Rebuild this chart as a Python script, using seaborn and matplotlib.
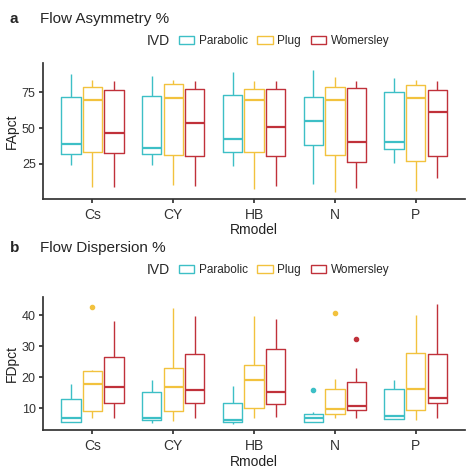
import numpy as np
import pandas as pd
import seaborn as sns
import matplotlib
matplotlib.use('Agg')
import matplotlib.pyplot as plt
from matplotlib.patches import Patch

models = ["Cs", "CY", "HB", "N", "P"]
ivds = ["Parabolic", "Plug", "Womersley"]
colors = ["#3DBFC6", "#F2C23E", "#C0313A"]

# five-number summaries [min, q1, median, q3, max] per model, per IVD
fa_parabolic = [[24, 32, 39, 71.7, 88], [24, 32, 36, 72.7, 86.7], [23.6, 33, 42, 73.4, 89],
                [11, 38, 55, 71.7, 91], [25.5, 35, 40, 75, 85]]
fa_plug = [[8.6, 33, 70, 79, 84], [10, 31, 71, 81, 84], [7, 33, 70, 77.3, 83],
           [5, 31, 69.4, 78.7, 85.5], [5.6, 27, 71.3, 80.4, 84]]
fa_womersley = [[8.6, 32.5, 46.5, 77, 83], [9.6, 30.6, 53.5, 77.5, 83], [9, 30.6, 51, 77.3, 82.7],
                [8, 26, 40.4, 78, 82.7], [15, 30, 61, 77, 82.7]]

fd_parabolic = [[5.5, 5.7, 6.8, 13, 18], [5.3, 6.2, 7, 15.4, 19], [4.9, 5.7, 6.1, 11.7, 17.3],
                [5.5, 5.7, 7, 8.2, 8.7], [6.5, 6.6, 7.6, 16.4, 19]]
fd_plug = [[7, 9.2, 18, 22.1, 22.3], [6, 9.2, 17, 22.9, 42.4], [7, 10, 19, 24, 39.7],
           [7, 8.1, 9.8, 16.4, 19.6], [6.3, 9.5, 16.4, 28, 40]]
fd_womersley = [[7, 11.7, 16.8, 26.6, 38.3], [6.8, 11.6, 16, 27.4, 39.7], [7.3, 11.3, 15.4, 29, 38.7],
                [7, 9.6, 10.8, 18.6, 22.9], [7, 11.6, 13.2, 27.6, 43.7]]
# outliers: (model, ivd, value)
fd_outliers = [("Cs", "Plug", 42.6), ("N", "Parabolic", 15.8), ("N", "Plug", 40.7), ("N", "Womersley", 32.5)]


def build(summaries, outliers=()):
    rows = []
    for ivd, summ in zip(ivds, summaries):
        for m, (lo, q1, med, q3, hi) in zip(models, summ):
            vals = [lo, (lo + q1) / 2, q1, (q1 + med) / 2, med, (med + q3) / 2, q3, (q3 + hi) / 2, hi]
            for om, oi, ov in outliers:
                if om == m and oi == ivd:
                    vals = [lo, (lo + q1) / 2, q1, (q1 + med) / 2, med, (med + q3) / 2, q3, hi, ov]
            rows += [(m, ivd, v) for v in vals]
    return pd.DataFrame(rows, columns=["Rmodel", "IVD", "value"])


sns.set_theme(style="ticks")
plt.rcParams['font.family'] = ['Liberation Sans', 'DejaVu Sans']

fig = plt.figure(figsize=(4.74, 4.67), dpi=100)
ax1 = fig.add_axes([0.09, 0.574, 0.892, 0.291])
ax2 = fig.add_axes([0.09, 0.079, 0.892, 0.285])

panels = [
    (ax1, build([fa_parabolic, fa_plug, fa_womersley]), "FApct", (0.2, 95.6), [25, 50, 75], "a", "Flow Asymmetry %", 0.975),
    (ax2, build([fd_parabolic, fd_plug, fd_womersley], fd_outliers), "FDpct", (3.0, 45.9), [10, 20, 30, 40], "b", "Flow Dispersion %", 0.485),
]

for ax, df, ylab, ylim, yt, letter, title, ytop in panels:
    sns.boxplot(data=df, x="Rmodel", y="value", hue="IVD", order=models, hue_order=ivds,
                palette=colors, fill=False, width=0.8, gap=0.1, linewidth=1.0,
                showcaps=False,
                flierprops=dict(marker="o", markersize=3), medianprops=dict(linewidth=1.6),
                legend=False, ax=ax)
    # fill flier markers
    for line in ax.lines:
        if line.get_marker() == "o":
            line.set_markerfacecolor(line.get_markeredgecolor())
    ax.set_ylim(*ylim)
    ax.set_xlim(-0.615, 4.615)
    ax.set_yticks(yt)
    ax.set_ylabel(ylab, fontsize=10, color="#222222", labelpad=2)
    ax.set_xlabel("Rmodel", fontsize=10, color="#222222", labelpad=1)
    ax.tick_params(axis="x", labelsize=10, colors="#333333", length=3)
    ax.tick_params(axis="y", labelsize=9, colors="#333333", length=3, pad=2)
    sns.despine(ax=ax)
    for s in ["left", "bottom"]:
        ax.spines[s].set_color("#333333")
    fig.text(0.02, ytop, letter, fontsize=11, fontweight="bold", va="top")
    fig.text(0.085, ytop, title, fontsize=11, va="top")
    handles = [Patch(facecolor="none", edgecolor=c, label=l) for c, l in zip(colors, ivds)]
    fig.text(0.31, ytop - 0.063, "IVD", fontsize=10, va="center")
    fig.legend(handles=handles, ncol=3, frameon=False, fontsize=8.5,
               loc="center left", bbox_to_anchor=(0.355, ytop - 0.063),
               handlelength=1.3, handletextpad=0.4, columnspacing=0.8)

fig.savefig("out.png", dpi=100)
